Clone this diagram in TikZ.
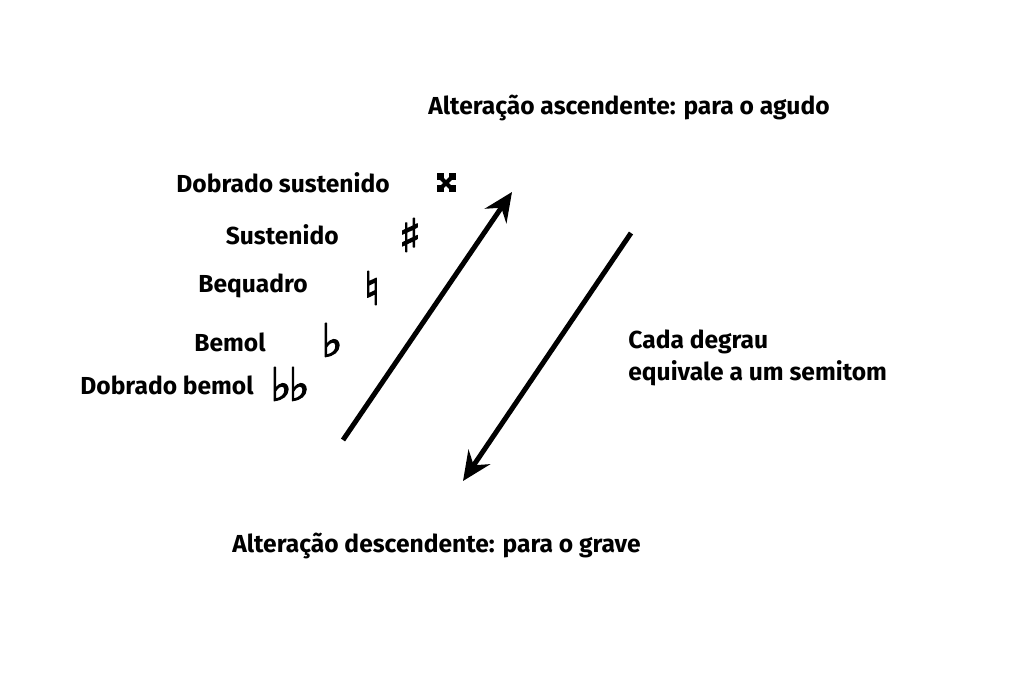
\documentclass[tikz,border=0pt]{standalone}
\usepackage{fontspec}
\setmainfont{Fira Sans}
\newfontfamily\musicfont[FakeBold=2.5]{DejaVu Sans}
\usetikzlibrary{arrows.meta}
\newcommand{\pxunit}{0.02cm}
\tikzset{
	lbl/.style={font=\bfseries\fontsize{14}{17}\selectfont, inner sep=0pt},
	accid/.style={font=\musicfont\fontsize{26}{26}\selectfont, inner sep=0pt},
	thickarrow/.style={line width=5*\pxunit, -{Stealth[length=29*\pxunit, width=26*\pxunit, inset=10*\pxunit]}}
}
\begin{document}
\begin{tikzpicture}[x=\pxunit, y=-\pxunit]
	\useasboundingbox[fill=white] (0,0) rectangle (1024,682);

	% titles
	\node[lbl, anchor=west] (asc) at (428,108) {Alteração ascendente: para o agudo};
	\node[lbl, anchor=west] (desc) at (232,546) {Alteração descendente: para o grave};
	\node[lbl, anchor=west, align=left] (step) at (628,358) {Cada degrau\\[1pt]equivale a um semitom};

	% names of the accidentals
	\node[lbl, anchor=east] (dsharp) at (390,183) {Dobrado sustenido};
	\node[lbl, anchor=east] (sharp) at (339,235) {Sustenido};
	\node[lbl, anchor=east] (natural) at (308,286) {Bequadro};
	\node[lbl, anchor=east] (flat) at (266,342) {Bemol};
	\node[lbl, anchor=east] (dflat) at (254,385) {Dobrado bemol};

	% signs
	\node[accid] (sharpsign) at (410,235) {♯};
	\node[accid] (naturalsign) at (372,288) {♮};
	\node[accid] (flatsign) at (332,340) {♭};
	\node[accid] (dflatsign) at (290,384) {♭\kern-2pt♭};
	\coordinate (dsharpsign) at (446,183);
	\draw[line width=4*\pxunit] ([shift={(-6.5,-6.5)}]dsharpsign) -- ([shift={(6.5,6.5)}]dsharpsign)
		([shift={(-6.5,6.5)}]dsharpsign) -- ([shift={(6.5,-6.5)}]dsharpsign);
	\foreach \dx/\dy in {-1/-1,1/-1,-1/1,1/1}
		\fill ([shift={(\dx*6-3.5,\dy*6-3.5)}]dsharpsign) rectangle ++(7,7);

	% arrows
	\coordinate (upstart) at (343,440);
	\coordinate (upend) at (512,192);
	\coordinate (downstart) at (631,233);
	\coordinate (downend) at (463,481);
	\draw[thickarrow] (upstart) -- (upend);
	\draw[thickarrow] (downstart) -- (downend);
\end{tikzpicture}
\end{document}
